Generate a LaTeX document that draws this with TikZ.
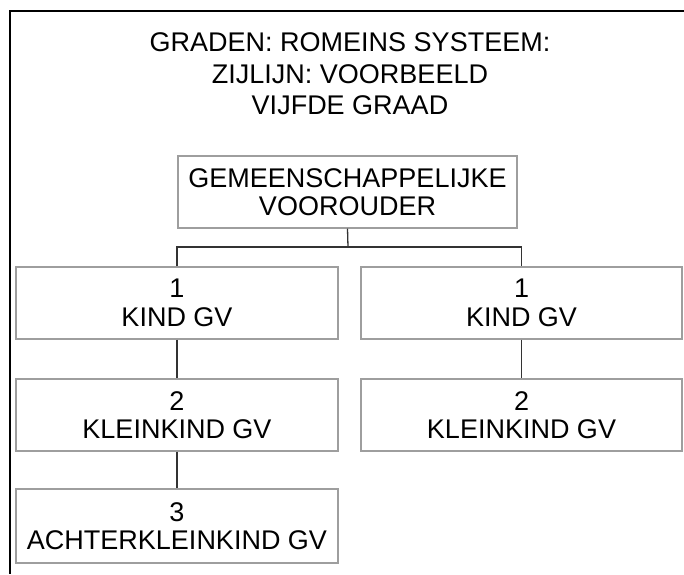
\documentclass[tikz,border=0pt]{standalone}
\usepackage{fontspec}
\setmainfont{Liberation Sans}
\begin{document}
\begin{tikzpicture}[x=1pt,y=-1pt,
  gvbox/.style={draw=black!38, line width=1.4pt, align=center, inner sep=0pt,
    font=\fontsize{27}{28.5}\selectfont},
  link/.style={draw=black!80, line width=1.3pt},
  frameline/.style={draw=black, line width=2pt}]
\useasboundingbox (0,0) rectangle (684,574);

% partial frame: top and left edges only
\draw[frameline] (684,11) -- (9.5,11) -- (9.5,574);

% heading
\node[align=center, font=\fontsize{27}{31.5}\selectfont] (title) at (350,74)
  {GRADEN: ROMEINS SYSTEEM:\\ZIJLIJN: VOORBEELD\\VIJFDE GRAAD};

% common ancestor
\node[gvbox, minimum width=339, minimum height=72] (gv) at (347.5,192)
  {GEMEENSCHAPPELIJKE\\VOOROUDER};

% left line
\node[gvbox, minimum width=322, minimum height=72] (l1) at (177,303) {1\\KIND GV};
\node[gvbox, minimum width=322, minimum height=72] (l2) at (177,415) {2\\KLEINKIND GV};
\node[gvbox, minimum width=322, minimum height=74] (l3) at (177,526) {3\\ACHTERKLEINKIND GV};

% right line
\node[gvbox, minimum width=321, minimum height=72] (r1) at (521.5,303) {1\\KIND GV};
\node[gvbox, minimum width=321, minimum height=72] (r2) at (521.5,415) {2\\KLEINKIND GV};

% connectors
\coordinate (bar) at (348,247);
\draw[link] (gv.south) -- (bar);
\draw[link] (l1.north) |- (bar) -| (r1.north);
\draw[link] (l1.south) -- (l2.north);
\draw[link] (l2.south) -- (l3.north);
\draw[link] (r1.south) -- (r2.north);
\end{tikzpicture}
\end{document}
